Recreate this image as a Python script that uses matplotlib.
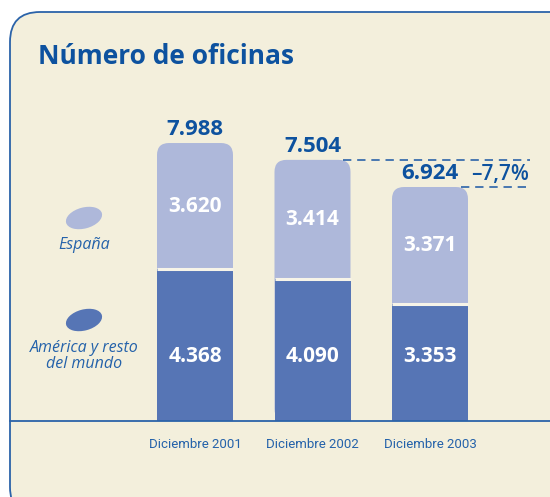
import matplotlib.pyplot as plt
from matplotlib.patches import FancyBboxPatch, Ellipse
from matplotlib.transforms import IdentityTransform

# data
categories = ['Diciembre 2001', 'Diciembre 2002', 'Diciembre 2003']
america = [4368, 4090, 3353]
espana = [3620, 3414, 3371]
totals = [7988, 7504, 6924]
change_label = '\u20137,7%'

def es_num(v):
    return '{:,}'.format(v).replace(',', '.')

W, H = 550, 497
CREAM = '#f3efdc'
BORDER = '#2b63a9'
LIGHT = '#aeb8da'
DARK = '#5675b5'
TITLE = '#0d529f'
TEXT = '#2462aa'

step = 117.5   # px between bar centres
scale = 0.0348 # px per office
x0, base = 195, 421

fig = plt.figure(figsize=(5.5, 4.97), dpi=100)
fig.patch.set_facecolor('white')
ax = fig.add_axes([0, 0, 1, 1])
ax.set_xlim(-x0 / step, (W - x0) / step)
ax.set_ylim(-(H - base) / scale, base / scale)
ax.axis('off')

# rounded background panel
panel = FancyBboxPatch((10 / W, -20 / H), 600 / W, (H - 12 + 20) / H,
                       boxstyle='round,pad=0,rounding_size=%f' % (30 / W),
                       mutation_aspect=W / H, transform=ax.transAxes,
                       fc=CREAM, ec=BORDER, lw=1.3, zorder=0, clip_on=False)
ax.add_patch(panel)

ax.text(38 / W, 1 - 56 / H, 'Número de oficinas', transform=ax.transAxes,
        fontsize=19, fontweight='bold', color=TITLE, family='Open Sans',
        ha='left', va='center')

w = 76 / step
r = 12 / step
xs = list(range(len(categories)))
for i in xs:
    top = america[i] + espana[i]
    p = FancyBboxPatch((i - w / 2, 0), w, top,
                       boxstyle='round,pad=0,rounding_size=%f' % r,
                       mutation_aspect=step / scale, fc=LIGHT, ec='none', zorder=2)
    ax.add_patch(p)
ax.bar(xs, america, width=w, color=DARK, zorder=3)
ax.hlines(america, [i - w / 2 for i in xs], [i + w / 2 for i in xs],
          color='#f7f4e8', lw=2.2, zorder=4)

ax.axhline(0, xmin=10 / W, xmax=1, color=BORDER, lw=1.3, zorder=5)

for i in xs:
    top = america[i] + espana[i]
    ax.annotate(es_num(totals[i]), (i, top), xytext=(0, 5.5), textcoords='offset points',
                ha='center', va='baseline', fontsize=16, fontweight='bold',
                color=TITLE, family='Open Sans', zorder=6)
    ax.text(i, america[i] + espana[i] / 2, es_num(espana[i]), ha='center', va='center',
            fontsize=15, fontweight='bold', color='white', family='Open Sans', zorder=6)
    ax.text(i, 1840, es_num(america[i]), ha='center', va='center',
            fontsize=15, fontweight='bold', color='white', family='Open Sans', zorder=6)
    ax.text(i, -(445 - base) / scale, categories[i], ha='center', va='center',
            fontsize=9.5, color=TEXT, family=['Roboto', 'DejaVu Sans'])

# dashed change markers
top2 = america[1] + espana[1]
top3 = america[2] + espana[2]
ax.hlines(top2, 1 + w / 2 - 0.06, 2.85, color=BORDER, lw=1.2, linestyles=(0, (5, 3.5)), zorder=5)
ax.hlines(top3, 2 + w / 2 - 0.06, 2.85, color=BORDER, lw=1.2, linestyles=(0, (5, 3.5)), zorder=5)
ax.annotate(change_label, (2.6, top3), xytext=(0, 5), textcoords='offset points',
            ha='center', va='baseline', fontsize=15, fontweight='semibold',
            color=TITLE, family='Open Sans')

# legend
for cy, col in [(218, LIGHT), (320, DARK)]:
    ax.add_patch(Ellipse((84, H - cy), 37, 21, angle=15, fc=col, ec='none',
                         transform=IdentityTransform()))
ax.text(84 / W, 1 - 245 / H, 'España', transform=ax.transAxes, ha='center', va='center',
        fontsize=11.5, style='italic', color=TEXT, family='Open Sans')
ax.text(84 / W, 1 - 356 / H, 'América y resto\ndel mundo', transform=ax.transAxes,
        ha='center', va='center', fontsize=11.5, style='italic', color=TEXT,
        family='Open Sans', linespacing=1.0)

fig.savefig('out.png', dpi=100)
